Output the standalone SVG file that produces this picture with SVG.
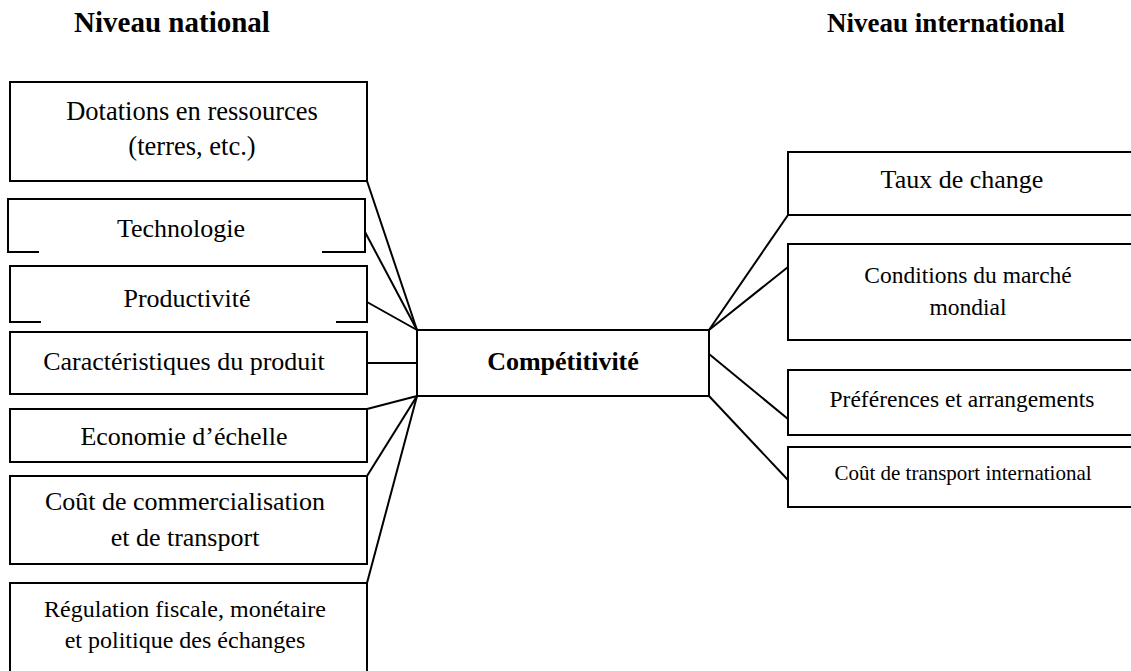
<svg xmlns="http://www.w3.org/2000/svg" width="1131" height="671" viewBox="0 0 1131 671">
<style>
.box{fill:#fff;stroke:#000;stroke-width:2}
.edge{fill:none;stroke:#000;stroke-width:2}
.t{font-family:"Liberation Serif","Times New Roman",serif;fill:#000;text-anchor:middle}
.h{font-family:"Liberation Serif","Times New Roman",serif;fill:#000;font-weight:bold;text-anchor:middle}
</style>
<rect width="1131" height="671" fill="#fff"/>
<text class="h" x="172" y="32" font-size="29">Niveau national</text>
<text class="h" x="946" y="32" font-size="27">Niveau international</text>
<g id="connectors" fill="none" stroke="#000" stroke-width="2">
<line x1="367" y1="181" x2="417" y2="330"/>
<line x1="365" y1="232" x2="417" y2="330"/>
<line x1="367" y1="302" x2="417" y2="330"/>
<line x1="367" y1="363" x2="417" y2="363"/>
<line x1="367" y1="409" x2="417" y2="396"/>
<line x1="367" y1="476" x2="417" y2="396"/>
<line x1="367" y1="583" x2="417" y2="396"/>
<line x1="709" y1="330" x2="788" y2="215"/>
<line x1="709" y1="330" x2="788" y2="267"/>
<line x1="709" y1="354" x2="788" y2="419"/>
<line x1="709" y1="396" x2="788" y2="480"/>
</g>
<g id="n-dotations">
<rect class="box" x="10" y="82" width="357" height="99"/>
<text class="t" x="192" y="120" font-size="26.5">Dotations en ressources</text>
<text class="t" x="192" y="155" font-size="26.5">(terres, etc.)</text>
</g>
<g id="n-technologie">
<path class="edge" d="M39 252 H8 V199 H365 V252 H322"/>
<text class="t" x="181" y="237" font-size="26">Technologie</text>
</g>
<g id="n-productivite">
<path class="edge" d="M41 322 H10 V266 H367 V322 H336"/>
<text class="t" x="187" y="307" font-size="26">Productivité</text>
</g>
<g id="n-caracteristiques">
<rect class="box" x="10" y="332" width="357" height="62"/>
<text class="t" x="184" y="370" font-size="26">Caractéristiques du produit</text>
</g>
<g id="n-economie">
<rect class="box" x="10" y="409" width="357" height="53"/>
<text class="t" x="184" y="445" font-size="26">Economie d’échelle</text>
</g>
<g id="n-cout">
<rect class="box" x="10" y="476" width="357" height="88"/>
<text class="t" x="185" y="510" font-size="26">Coût de commercialisation</text>
<text class="t" x="185" y="546" font-size="26">et de transport</text>
</g>
<g id="n-regulation">
<rect class="box" x="10" y="583" width="357" height="100"/>
<text class="t" x="185" y="617" font-size="24">Régulation fiscale, monétaire</text>
<text class="t" x="185" y="648" font-size="24">et politique des échanges</text>
</g>
<g id="n-competitivite">
<rect class="box" x="417" y="330" width="292" height="66"/>
<text class="t" x="563" y="370" font-size="26" font-weight="bold">Compétitivité</text>
</g>
<g id="n-taux">
<rect class="box" x="788" y="152" width="360" height="63"/>
<text class="t" x="962" y="188" font-size="26">Taux de change</text>
</g>
<g id="n-conditions">
<rect class="box" x="788" y="244" width="360" height="96"/>
<text class="t" x="968" y="283" font-size="23.5">Conditions du marché</text>
<text class="t" x="968" y="315" font-size="23.5">mondial</text>
</g>
<g id="n-preferences">
<rect class="box" x="788" y="370" width="360" height="65"/>
<text class="t" x="962" y="407" font-size="23.5">Préférences et arrangements</text>
</g>
<g id="n-transport">
<rect class="box" x="788" y="447" width="360" height="60"/>
<text class="t" x="963" y="480" font-size="21">Coût de transport international</text>
</g>
</svg>
